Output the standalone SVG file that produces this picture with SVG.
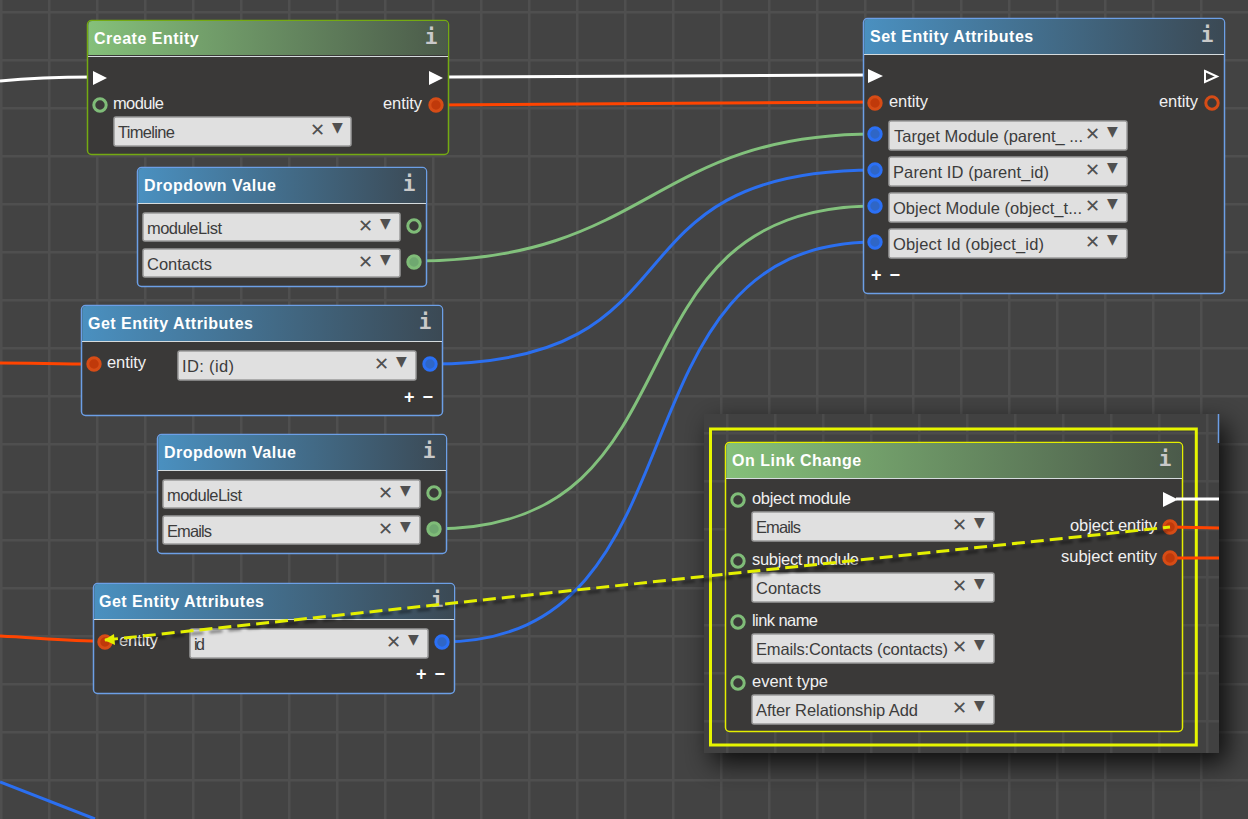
<svg xmlns="http://www.w3.org/2000/svg" width="1248" height="819" viewBox="0 0 1248 819">
<style>
text{font-family:"Liberation Sans",Arial,sans-serif}
.t{font-size:16px;font-weight:bold;fill:#fff;letter-spacing:.5px}
.l{font-size:16.5px;fill:#f0f0f0}
.v{font-size:16.5px;fill:#3c3c3c}
.e{text-anchor:end}
.i{font-family:"DejaVu Sans Mono",monospace;font-size:21px;font-weight:bold;fill:#c9c9c9;text-anchor:middle}
.x{font-family:"DejaVu Sans",sans-serif;font-size:18px;fill:#505050}
.a{font-family:"DejaVu Sans",sans-serif;font-size:14px;fill:#505050}
.pm{font-size:18px;font-weight:bold;fill:#fff;word-spacing:3px}
.body{fill:#3a3938}
.bb{stroke:#6c9fe6;stroke-width:1.5}
.bg{stroke:#74aa12;stroke-width:1.5}
.by{stroke:#e4ee00;stroke-width:1.5}
.sep{stroke:#d5dbdd;stroke-width:1}
.box{fill:#e0e0e0;stroke:#9a9a9a;stroke-width:1.5}
.pg{fill:none;stroke:#7fbc78;stroke-width:3}
.pgf{fill:#6fa870;stroke:#7fbc78;stroke-width:3}
.po{fill:#c0390a;stroke:#d64c16;stroke-width:3}
.poh{fill:none;stroke:#d64c16;stroke-width:3}
.pb{fill:#2f66c6;stroke:#2b70f5;stroke-width:3}
.c{fill:none;stroke-width:3}
.cw{stroke:#fff}.co{stroke:#ff4400}.cg{stroke:#82c17c}.cb{stroke:#2b6ff0}
.fl{fill:#fff}
.hl{fill:none;stroke:#fff;stroke-width:2}
</style>
<defs>
<pattern id="grid" width="48" height="48" patternUnits="userSpaceOnUse" x="0" y="11">
<rect width="48" height="48" fill="#434343"/>
<rect x="0" y="0" width="2.500" height="48" fill="#4f4f4f"/>
<rect x="0" y="0" width="48" height="2.500" fill="#4f4f4f"/>
</pattern>
<pattern id="grid2" width="48" height="48" patternUnits="userSpaceOnUse" x="726" y="432">
<rect width="48" height="48" fill="#414141"/>
<rect x="0" y="0" width="2.500" height="48" fill="#4b4b4b"/>
<rect x="0" y="0" width="48" height="2.500" fill="#4b4b4b"/>
</pattern>
<linearGradient id="hb"><stop offset="0" stop-color="#4a90c0"/><stop offset="1" stop-color="#3b4954"/></linearGradient>
<linearGradient id="hg"><stop offset="0" stop-color="#85c07a"/><stop offset="1" stop-color="#4b5a4a"/></linearGradient>
<filter id="sh" x="-20%" y="-20%" width="140%" height="140%"><feGaussianBlur stdDeviation="13"/></filter>
<filter id="ls" x="-5%" y="-50%" width="110%" height="200%"><feGaussianBlur stdDeviation="1.5"/></filter>
</defs>
<rect id="background" width="1248" height="819" fill="url(#grid)"/>
<g id="connectors-back">
<path class="c cw" d="M0 81C30 78 60 77 93 77"/>
<path class="c cw" d="M448 77C600 77 720 75 868 75"/>
<path class="c co" d="M436 105C600 105 720 102 875 102"/>
<path class="c co" d="M0 363C30 363 60 364 93 364"/>
<path class="c co" d="M0 636C40 638 70 641 105 641"/>
<path class="c cb" d="M0 782L95 819"/>
<path class="c cg" d="M414 261C650 261 650 134 875 134"/>
<path class="c cb" d="M430 364C710 364 595 170 875 170"/>
<path class="c cg" d="M434 529C712 529 597 206 875 206"/>
<path class="c cb" d="M441 642C714 642 602 242 875 242"/>
</g>
<g id="node-create-entity">
<rect class="body bg" x="87.500" y="20.500" width="361" height="134" rx="4"/>
<path d="M88.300 55V25a4 4 0 0 1 4-4H444a4 4 0 0 1 4 4V55z" fill="url(#hg)"/>
<path class="sep" d="M88 56.500H448"/>
<text class="t" x="94" y="44">Create Entity</text><text class="i" x="431" y="44">i</text>
<path class="fl" d="M93 71L107 78L93 85z"/><path class="fl" d="M429 71L443 78L429 85z"/>
<circle class="pg" cx="100" cy="105" r="6.200"/><text class="l" x="113" y="109" textLength="51">module</text>
<text class="l e" x="422" y="109" textLength="39">entity</text><circle class="po" cx="436" cy="105" r="6.200"/>
<rect class="box" x="114" y="117" width="237" height="29" rx="2"/><text class="v" x="118" y="138" textLength="57">Timeline</text>
<text class="x" x="310" y="136">✕</text><text class="a" x="332" y="132">▼</text>
</g>
<g id="node-dropdown-1">
<rect class="body bb" x="137.500" y="167.500" width="289" height="119" rx="4"/>
<path d="M138.300 203V172a4 4 0 0 1 4-4H422a4 4 0 0 1 4 4V203z" fill="url(#hb)"/>
<path class="sep" d="M138 203.500H426"/>
<text class="t" x="144" y="191">Dropdown Value</text><text class="i" x="409" y="191">i</text>
<rect class="box" x="143" y="213" width="257" height="28" rx="2"/><text class="v" x="147" y="234" textLength="75">moduleList</text>
<text class="x" x="358" y="232">✕</text><text class="a" x="380" y="228">▼</text><circle class="pg" cx="414" cy="226" r="6.200"/>
<rect class="box" x="143" y="249" width="257" height="28" rx="2"/><text class="v" x="147" y="270" textLength="65">Contacts</text>
<text class="x" x="358" y="268">✕</text><text class="a" x="380" y="264">▼</text><circle class="pgf" cx="414" cy="262" r="6.200"/>
</g>
<g id="node-get-entity-1">
<rect class="body bb" x="81.500" y="305.500" width="361" height="110" rx="4"/>
<path d="M82.300 341V310a4 4 0 0 1 4-4H438a4 4 0 0 1 4 4V341z" fill="url(#hb)"/>
<path class="sep" d="M82 341.500H442"/>
<text class="t" x="88" y="329">Get Entity Attributes</text><text class="i" x="425" y="329">i</text>
<circle class="po" cx="94" cy="364" r="6.200"/><text class="l" x="107" y="368" textLength="39">entity</text>
<rect class="box" x="178" y="351" width="238" height="29" rx="2"/><text class="v" x="182" y="372" textLength="52">ID: (id)</text>
<text class="x" x="374" y="370">✕</text><text class="a" x="396" y="366">▼</text><circle class="pb" cx="430" cy="364" r="6.200"/>
<text class="pm" x="404" y="403">+ −</text>
</g>
<g id="node-dropdown-2">
<rect class="body bb" x="157.500" y="434.500" width="289" height="119" rx="4"/>
<path d="M158.300 470V439a4 4 0 0 1 4-4H442a4 4 0 0 1 4 4V470z" fill="url(#hb)"/>
<path class="sep" d="M158 470.500H446"/>
<text class="t" x="164" y="458">Dropdown Value</text><text class="i" x="429" y="458">i</text>
<rect class="box" x="163" y="480" width="257" height="28" rx="2"/><text class="v" x="167" y="501" textLength="75">moduleList</text>
<text class="x" x="378" y="499">✕</text><text class="a" x="400" y="495">▼</text><circle class="pg" cx="434" cy="493" r="6.200"/>
<rect class="box" x="163" y="516" width="257" height="28" rx="2"/><text class="v" x="167" y="537" textLength="45">Emails</text>
<text class="x" x="378" y="535">✕</text><text class="a" x="400" y="531">▼</text><circle class="pgf" cx="434" cy="529" r="6.200"/>
</g>
<g id="node-get-entity-2">
<rect class="body bb" x="93.500" y="583.500" width="361" height="110" rx="4"/>
<path d="M94.300 619V588a4 4 0 0 1 4-4H450a4 4 0 0 1 4 4V619z" fill="url(#hb)"/>
<path class="sep" d="M94 619.500H454"/>
<text class="t" x="99" y="607">Get Entity Attributes</text><text class="i" x="437" y="607">i</text>
<circle class="po" cx="105" cy="642" r="6.200"/><text class="l" x="119" y="646" textLength="39">entity</text>
<rect class="box" x="190" y="629" width="238" height="29" rx="2"/><text class="v" x="194" y="650" textLength="11">id</text>
<text class="x" x="386" y="648">✕</text><text class="a" x="408" y="644">▼</text><circle class="pb" cx="442" cy="642" r="6.200"/>
<text class="pm" x="416" y="680">+ −</text>
</g>
<g id="node-set-entity">
<rect class="body bb" x="863.500" y="18.500" width="361" height="275" rx="4"/>
<path d="M864.300 54V23a4 4 0 0 1 4-4H1220a4 4 0 0 1 4 4V54z" fill="url(#hb)"/>
<path class="sep" d="M864 54.500H1224"/>
<text class="t" x="870" y="42">Set Entity Attributes</text><text class="i" x="1207" y="42">i</text>
<path class="fl" d="M868 69L883 76L868 83z"/><path class="hl" d="M1205 71L1217 76.500L1205 82z"/>
<circle class="po" cx="875" cy="103" r="6.200"/><text class="l" x="889" y="107" textLength="39">entity</text>
<text class="l e" x="1198" y="107" textLength="39">entity</text><circle class="poh" cx="1212" cy="103" r="6.200"/>
<circle class="pb" cx="875" cy="134" r="6.200"/><rect class="box" x="889" y="121" width="238" height="29" rx="2"/><text class="v" x="894" y="142" textLength="189">Target Module (parent_ ...</text><text class="x" x="1085" y="140">✕</text><text class="a" x="1107" y="136">▼</text>
<circle class="pb" cx="875" cy="170" r="6.200"/><rect class="box" x="889" y="157" width="238" height="29" rx="2"/><text class="v" x="893" y="178" textLength="156">Parent ID (parent_id)</text><text class="x" x="1085" y="176">✕</text><text class="a" x="1107" y="172">▼</text>
<circle class="pb" cx="875" cy="206" r="6.200"/><rect class="box" x="889" y="193" width="238" height="29" rx="2"/><text class="v" x="893" y="214" textLength="189">Object Module (object_t...</text><text class="x" x="1085" y="212">✕</text><text class="a" x="1107" y="208">▼</text>
<circle class="pb" cx="875" cy="242" r="6.200"/><rect class="box" x="889" y="229" width="238" height="29" rx="2"/><text class="v" x="893" y="250" textLength="151">Object Id (object_id)</text><text class="x" x="1085" y="248">✕</text><text class="a" x="1107" y="244">▼</text>
<text class="pm" x="871" y="281">+ −</text>
</g>
<rect x="712" y="424" width="515" height="339" fill="#000" opacity=".8" filter="url(#sh)"/>
<rect x="704" y="414" width="515" height="339" fill="url(#grid2)"/>
<path d="M1218.500 414V443" stroke="#6c9fe6" stroke-width="1.500"/>
<g id="node-on-link-change">
<rect x="710.500" y="429" width="485.800" height="316" fill="none" stroke="#e6f500" stroke-width="3"/>
<rect class="body by" x="725.500" y="442.500" width="457" height="289" rx="4"/>
<path d="M726.300 478V447a4 4 0 0 1 4-4H1178a4 4 0 0 1 4 4V478z" fill="url(#hg)"/>
<path class="sep" d="M726 478.500H1182"/>
<text class="t" x="732" y="466">On Link Change</text><text class="i" x="1165" y="466">i</text>
<circle class="pg" cx="738" cy="500" r="6.200"/><text class="l" x="752" y="504" textLength="99">object module</text>
<rect class="box" x="752" y="512" width="242" height="29" rx="2"/><text class="v" x="756" y="533" textLength="45">Emails</text><text class="x" x="952" y="531">✕</text><text class="a" x="974" y="527">▼</text>
<circle class="pg" cx="738" cy="561" r="6.200"/><text class="l" x="752" y="565" textLength="107">subject module</text>
<rect class="box" x="752" y="573" width="242" height="29" rx="2"/><text class="v" x="756" y="594" textLength="65">Contacts</text><text class="x" x="952" y="592">✕</text><text class="a" x="974" y="588">▼</text>
<circle class="pg" cx="738" cy="622" r="6.200"/><text class="l" x="752" y="626" textLength="66">link name</text>
<rect class="box" x="752" y="634" width="242" height="29" rx="2"/><text class="v" x="756" y="655" textLength="192">Emails:Contacts (contacts)</text><text class="x" x="952" y="653">✕</text><text class="a" x="974" y="649">▼</text>
<circle class="pg" cx="738" cy="683" r="6.200"/><text class="l" x="752" y="687" textLength="76">event type</text>
<rect class="box" x="752" y="695" width="242" height="29" rx="2"/><text class="v" x="756" y="716" textLength="162">After Relationship Add</text><text class="x" x="952" y="714">✕</text><text class="a" x="974" y="710">▼</text>
<path class="fl" d="M1163 492L1178 499.500L1163 507z"/>
<path class="c cw" d="M1176 499H1219"/>
<path class="c co" d="M1170 527L1219 528"/><path class="c co" d="M1170 558H1219"/>
<text class="l e" x="1157" y="531" textLength="87">object entity</text><circle class="po" cx="1170" cy="527" r="6.200"/>
<text class="l e" x="1157" y="562" textLength="96">subject entity</text><circle class="po" cx="1170" cy="558" r="6.200"/>
</g>
<g id="connector-selected">
<path d="M115 642L1172 531" fill="none" stroke="#000" stroke-opacity=".45" stroke-width="3" stroke-dasharray="13 6" filter="url(#ls)"/>
<path d="M105 640L1170 527" fill="none" stroke="#e4f000" stroke-width="3" stroke-dasharray="13 6"/>
<path d="M104 640L114 634L115 645z" fill="#e4f000"/>
</g>
</svg>
